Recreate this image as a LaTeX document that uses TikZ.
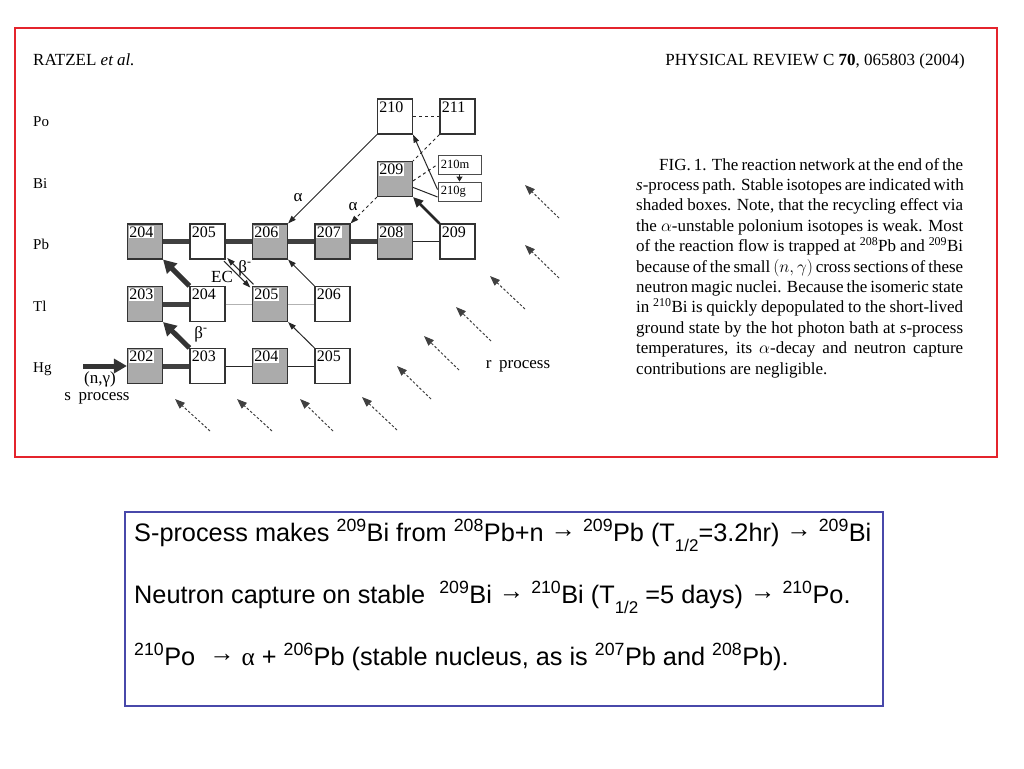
\documentclass[tikz,border=0pt]{standalone}
\usepackage{fontspec}
\setmainfont{Liberation Serif}
\newfontfamily\slidefont{Liberation Sans}
\usetikzlibrary{arrows.meta}
\definecolor{framered}{RGB}{228,36,44}
\definecolor{boxblue}{RGB}{72,72,170}
\newcommand{\lowered}[1]{\raisebox{-0.42em}{\fontsize{17}{17}\selectfont #1}}
\newcommand{\arr}{\raisebox{0.12em}{→}}

\begin{document}
\begin{tikzpicture}[x=1pt,y=-1pt,
  every node/.style={font=\fontsize{17}{17}\selectfont},
  nuc/.style={draw=black!80,line width=1.1pt,fill=white,minimum width=35pt,minimum height=35pt,inner sep=0pt},
  stab/.style={nuc,fill=black!33},
  num/.style={anchor=north west,inner sep=0.8pt,xshift=1.5pt,yshift=-2pt,font=\fontsize{16}{16}\selectfont},
  snum/.style={num,fill=white},
  isobox/.style={draw=black!70,line width=0.9pt,fill=white,minimum width=43pt,minimum height=19pt,inner sep=0pt},
  inum/.style={anchor=west,inner sep=0pt,xshift=3pt,font=\fontsize{12.5}{12.5}\selectfont},
  elem/.style={anchor=base west,inner sep=0pt,font=\fontsize{15}{15}\selectfont},
  bar/.style={line width=5pt,draw=black!75},
  link/.style={line width=1pt,draw=black!85},
  faint/.style={line width=1pt,draw=black!30},
  tip/.style={-{Triangle[length=8pt,width=5.5pt]}},
  bigarrow/.style={line width=5pt,draw=black!80,-{Triangle[length=13pt,width=14pt]}},
  midarrow/.style={line width=2.5pt,draw=black!85,-{Triangle[length=10pt,width=9pt]}},
  rarrow/.style={line width=1pt,draw=black!75,dash pattern=on 2.5pt off 2pt,-{Triangle[length=10pt,width=7.5pt]}},
  slide/.style={anchor=base west,inner sep=0pt,font=\slidefont\fontsize{25.3}{25.3}\selectfont}]
  \useasboundingbox (0,0) rectangle (1024,768);
  % frames
  \draw[framered,line width=1.2pt] (15,28) rectangle (997,457);
  \draw[boxblue,line width=1.1pt] (125,512) rectangle (883,706);
  % header
  \node[anchor=base west,inner sep=0pt] (head) at (33,66) {RATZEL \textit{et al.}};
  \node[anchor=base east,inner sep=0pt] (journal) at (965,66) {PHYSICAL REVIEW C \textbf{70}, 065803 (2004)};
  % element rows
  \node[elem] (lpo) at (33,126) {Po};
  \node[elem] (lbi) at (33,188) {Bi};
  \node[elem] (lpb) at (33,249) {Pb};
  \node[elem] (ltl) at (33,311) {Tl};
  \node[elem] (lhg) at (33,372) {Hg};
  % Po
  \node[nuc,label={[num]north west:210}] (po210) at (395,116.5) {};
  \node[nuc,label={[num]north west:211}] (po211) at (457.5,116.5) {};
  % Bi
  \node[stab,label={[snum]north west:209}] (bi209) at (395,179) {};
  \node[isobox,label={[inum]west:210m}] (bi210m) at (459.5,164.5) {};
  \node[isobox,label={[inum]west:210g}] (bi210g) at (459.5,191.5) {};
  % Pb
  \node[stab,label={[snum]north west:204}] (pb204) at (145,241.5) {};
  \node[nuc,label={[num]north west:205}] (pb205) at (207.5,241.5) {};
  \node[stab,label={[snum]north west:206}] (pb206) at (270,241.5) {};
  \node[stab,label={[snum]north west:207}] (pb207) at (332.5,241.5) {};
  \node[stab,label={[snum]north west:208}] (pb208) at (395,241.5) {};
  \node[nuc,label={[num]north west:209}] (pb209) at (457.5,241.5) {};
  % Tl
  \node[stab,label={[snum]north west:203}] (tl203) at (145,304) {};
  \node[nuc,label={[num]north west:204}] (tl204) at (207.5,304) {};
  \node[stab,label={[snum]north west:205}] (tl205) at (270,304) {};
  \node[nuc,label={[num]north west:206}] (tl206) at (332.5,304) {};
  % Hg
  \node[stab,label={[snum]north west:202}] (hg202) at (145,366) {};
  \node[nuc,label={[num]north west:203}] (hg203) at (207.5,366) {};
  \node[stab,label={[snum]north west:204}] (hg204) at (270,366) {};
  \node[nuc,label={[num]north west:205}] (hg205) at (332.5,366) {};
  % neutron captures
  \draw[bar] (pb204) -- (pb205);
  \draw[bar] (pb205) -- (pb206);
  \draw[bar] (pb206) -- (pb207);
  \draw[bar] (pb207) -- (pb208);
  \draw[link] (pb208) -- (pb209);
  \draw[bar] (tl203) -- (tl204);
  \draw[faint] (tl204) -- (tl205);
  \draw[faint] (tl205) -- (tl206);
  \draw[bar] (hg202) -- (hg203);
  \draw[link] (hg203) -- (hg204);
  \draw[link] (hg204) -- (hg205);
  \draw[link,dashed] (po210) -- (po211);
  % decays
  \draw[bigarrow] (hg203.north west) -- (tl203.south east);
  \draw[bigarrow] (tl204.north west) -- (pb204.south east);
  \draw[link,tip] ([shift={(1.6,-1.6)}]tl205.north west) -- ([shift={(1.6,-1.6)}]pb205.south east);
  \draw[link,tip] ([shift={(-1.6,1.6)}]pb205.south east) -- ([shift={(-1.6,1.6)}]tl205.north west);
  \draw[link,tip] (tl206.north west) -- (pb206.south east);
  \draw[link,tip] (hg205.north west) -- (tl205.south east);
  \draw[link,tip] (po210.south west) -- (pb206.north east);
  \draw[link,dashed,tip] (bi209.south west) -- (pb207.north east);
  \draw[midarrow] (pb209.north west) -- (bi209.south east);
  \draw[link,tip] (bi210g.175) -- (po210.south east);
  \draw[link] (bi209.335) -- (bi210g.194);
  \draw[link,dashed] (bi209.354) -- (bi210m.west);
  \draw[link,dashed] (po211.south west) -- (bi209.north east);
  \draw[link,-{Triangle[length=5pt,width=6pt]}] (bi210m.south) -- (bi210g.north);
  % s-process input
  \coordinate (sin) at (83,366);
  \draw[bigarrow] (sin) -- (hg202.west);
  \node (ng) at (100,379) {(n,γ)};
  \node (sproc) at (97,398) {s\hspace{0.45em}process};
  % labels on decays
  \node (al1) at (298,198) {α};
  \node (al2) at (353,207) {α};
  \node (be1) at (201,334) {β\textsuperscript{-}};
  \node (ec) at (222,277) {EC};
  \node (be2) at (245,268) {β\textsuperscript{-}};
  % r-process
  \draw[rarrow] (559,218) -- (525,185);
  \draw[rarrow] (559,278) -- (525,245);
  \draw[rarrow] (525,309) -- (490,276);
  \draw[rarrow] (491,341) -- (456,307);
  \draw[rarrow] (459,370) -- (424,336);
  \draw[rarrow] (431,399) -- (397,366);
  \draw[rarrow] (397,430) -- (362,397);
  \draw[rarrow] (333,431) -- (300,399);
  \draw[rarrow] (272,431) -- (237,399);
  \draw[rarrow] (210,431) -- (175,399);
  \node (rproc) at (518,366) {r\hspace{0.45em}process};
  % caption
  \node[anchor=north west,inner sep=0pt,align=left,font=\fontsize{17}{20.4}\selectfont] (caption) at (636,158) {%
    \hspace*{23pt}\makebox[304pt][s]{FIG. 1. The reaction network at the end of the}\\
    \makebox[327pt][s]{\textit{s}-process path. Stable isotopes are indicated with}\\
    \makebox[327pt][s]{shaded boxes. Note, that the recycling effect via}\\
    \makebox[327pt][s]{the $\alpha$-unstable polonium isotopes is weak. Most}\\
    \makebox[327pt][s]{of the reaction flow is trapped at \textsuperscript{208}Pb and \textsuperscript{209}Bi}\\
    \makebox[327pt][s]{because of the small $(n,\gamma)$ cross sections of these}\\
    \makebox[327pt][s]{neutron magic nuclei. Because the isomeric state}\\
    \makebox[327pt][s]{in \textsuperscript{210}Bi is quickly depopulated to the short-lived}\\
    \makebox[327pt][s]{ground state by the hot photon bath at \textit{s}-process}\\
    \makebox[327pt][s]{temperatures, its $\alpha$-decay and neutron capture}\\
    contributions are negligible.};
  % summary box
  \node[slide] (line1) at (134,541) {S-process makes \textsuperscript{209}Bi from \textsuperscript{208}Pb+n \arr{} \textsuperscript{209}Pb (T\lowered{1/2}=3.2hr) \arr{} \textsuperscript{209}Bi};
  \node[slide] (line2) at (134,603) {Neutron capture on stable\ \ \textsuperscript{209}Bi \arr{} \textsuperscript{210}Bi (T\lowered{1/2} =5 days) \arr{} \textsuperscript{210}Po.};
  \node[slide] (line3) at (134,665) {\textsuperscript{210}Po\ \ \arr{} {\rmfamily α} + \textsuperscript{206}Pb (stable nucleus, as is \textsuperscript{207}Pb and \textsuperscript{208}Pb).};
\end{tikzpicture}
\end{document}
